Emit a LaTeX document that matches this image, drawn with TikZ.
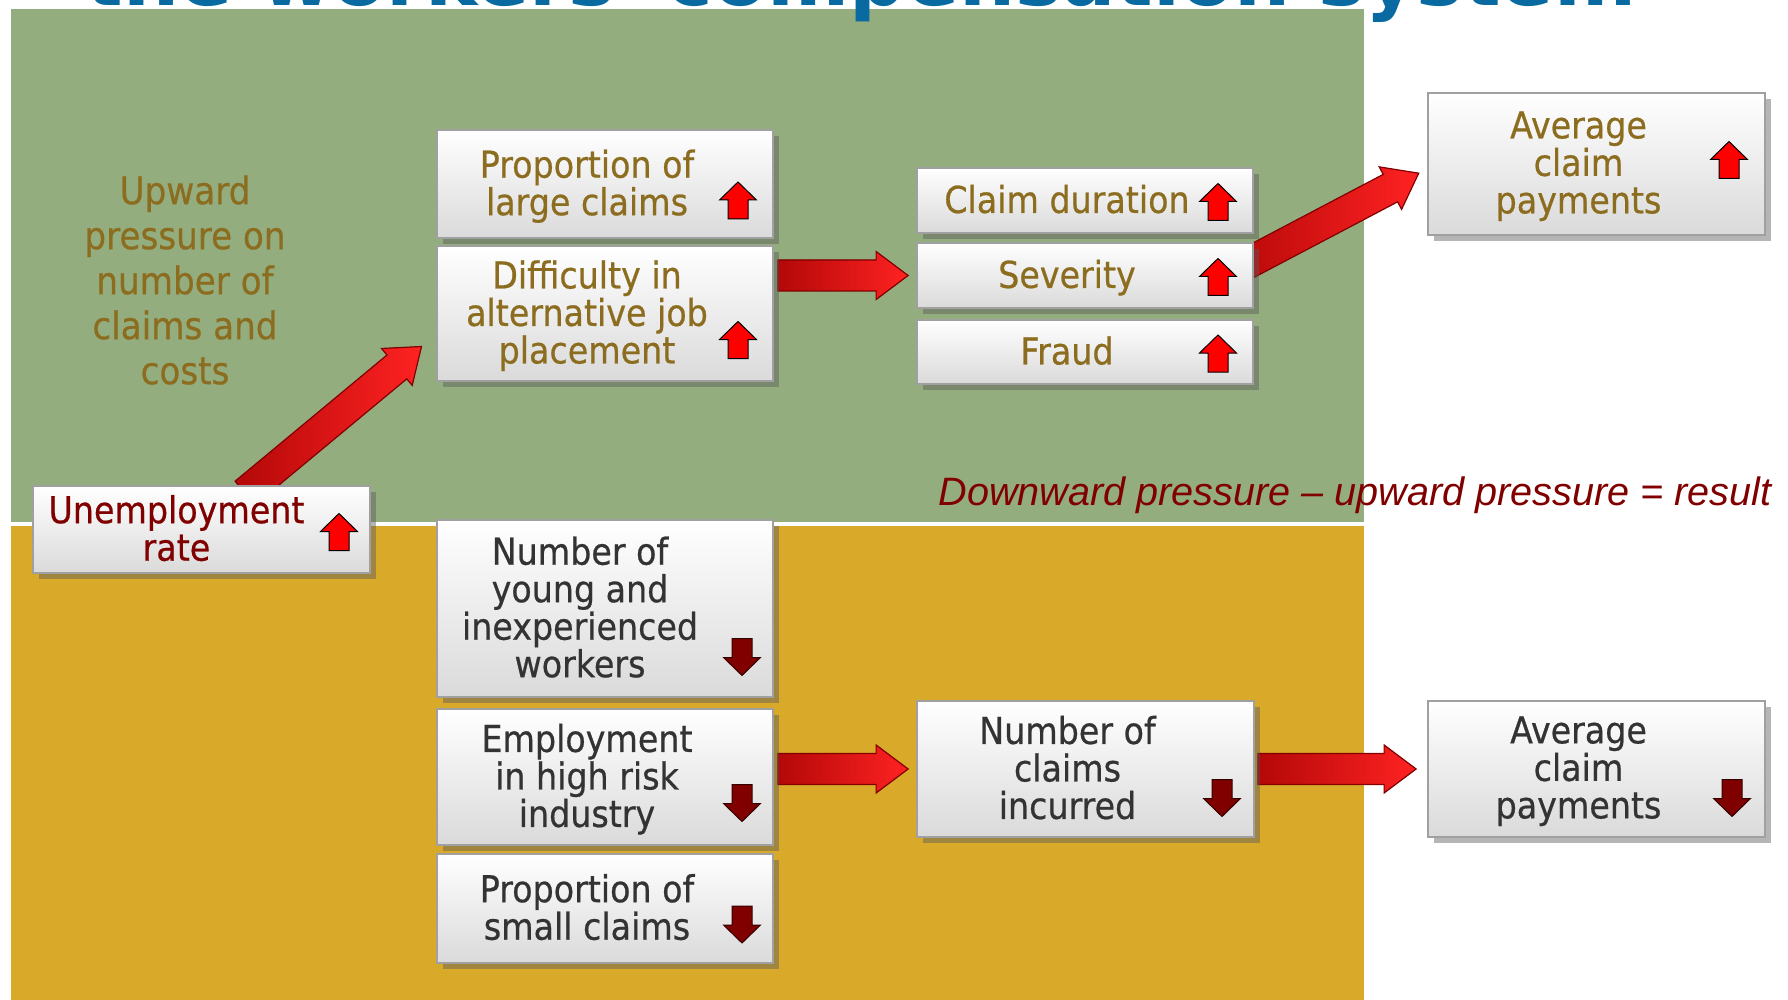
\documentclass[tikz,border=0pt]{standalone}
\usepackage{fontspec}
\setmainfont{DejaVu Sans}[FakeStretch=0.9, FakeBold=0.6]
\newfontfamily\titlefont{DejaVu Sans}
\newfontfamily\notefont{Liberation Sans}
\usetikzlibrary{calc,shadows}
\pgfdeclarelayer{bg}
\pgfsetlayers{bg,main}
\definecolor{greenbg}{RGB}{148,173,126}
\definecolor{goldbg}{RGB}{217,169,41}
\definecolor{titleblue}{RGB}{8,106,160}
\definecolor{goldtext}{RGB}{140,109,31}
\definecolor{greytext}{RGB}{51,51,51}
\definecolor{redtext}{RGB}{128,0,0}
\definecolor{boxborder}{RGB}{160,160,160}
\definecolor{boxbottom}{RGB}{218,218,218}
\definecolor{shadowc}{RGB}{90,90,90}
\definecolor{arrdark}{RGB}{180,8,8}
\definecolor{arrbright}{RGB}{255,34,34}
\definecolor{arrborder}{RGB}{130,0,0}
\definecolor{upred}{RGB}{255,0,0}
\definecolor{downred}{RGB}{128,0,0}

\newcommand\bt[2][18pt]{\raisebox{-2pt}[\height][\depth]{\parbox{140pt}{\lineskiplimit=-20pt\centering\strut#2\strut}}\hspace*{#1}}

\newcommand\fatarrow[2]{%
  \path let \p1=(#1), \p2=(#2),
    \n1={atan2(\y2-\y1,\x2-\x1)}, \n2={veclen(\x2-\x1,\y2-\y1)} in
    \pgfextra{\xdef\faang{\n1}\xdef\falen{\n2}};
  \filldraw[bigarrow, shift={(#1)}, rotate=\faang]
    (0pt,-7.75pt) -- ({\falen-16pt},-7.75pt) -- ({\falen-16pt},-12pt) -- ({\falen+0pt},0pt)
    -- ({\falen-16pt},12pt) -- ({\falen-16pt},7.75pt) -- (0pt,7.75pt) -- cycle;}

\begin{document}
\begin{tikzpicture}[x=0.5pt, y=-0.5pt,
  box/.style={draw=boxborder, line width=0.9pt, top color=white, bottom color=boxbottom,
    minimum width=168pt, inner sep=0pt,
    general shadow={fill=shadowc, opacity=0.45, shadow xshift=3pt, shadow yshift=-3pt},
    font=\fontsize{18.5pt}{18.75pt}\selectfont},
  goldbox/.style={box, text=goldtext},
  greybox/.style={box, text=greytext},
  bigarrow/.style={draw=arrborder, line width=0.6pt, line join=miter, left color=arrdark, right color=arrbright},
  uparr/.pic={\filldraw[fill=upred, draw=black, line width=0.5pt, line join=miter]
    (0,-18.5) -- (18.5,-0.5) -- (10,-0.5) -- (10,18.5) -- (-10,18.5) -- (-10,-0.5) -- (-18.5,-0.5) -- cycle;},
  dnarr/.pic={\filldraw[fill=downred, draw=black!80!red, line width=0.5pt, line join=miter]
    (0,18.5) -- (18.5,0.5) -- (10,0.5) -- (10,-18.5) -- (-10,-18.5) -- (-10,0.5) -- (-18.5,0.5) -- cycle;}
]
\useasboundingbox (0,0) rectangle (1788,1000);
\begin{pgfonlayer}{bg}
  \fill[greenbg] (11,9) rectangle (1364,522);
  \fill[goldbg] (11,526) rectangle (1364,1000);
\end{pgfonlayer}

\node[anchor=base west, inner sep=0pt, text=titleblue,
  font=\titlefont\bfseries\fontsize{39.4pt}{39.4pt}\selectfont] (title) at (85,6)
  {the workers' compensation system};

\node[text=goldtext, align=center, font=\fontsize{19pt}{22.5pt}\selectfont] (upw) at (185,280)
  {Upward\\pressure on\\number of\\claims and\\costs};

\node[anchor=base west, inner sep=0pt, text=redtext,
  font=\notefont\itshape\fontsize{19.8pt}{19.8pt}\selectfont] (note) at (938,505)
  {Downward pressure – upward pressure = result};

% boxes
\node[box, text=redtext, minimum width=168.5pt, minimum height=43.5pt] (unemp) at (201.5,529.5)
  {\bt[25pt]{Unemployment\\rate}};
\node[goldbox, minimum height=54pt] (plc) at (605,184) {\bt{Proportion of\\large claims}};
\node[goldbox, minimum height=67.5pt] (diff) at (605,313.5) {\bt{Difficulty in\\alternative job\\placement}};
\node[goldbox, minimum height=32.5pt] (dur) at (1085,200.5) {\bt{Claim duration}};
\node[goldbox, minimum height=32.5pt] (sev) at (1085,275.5) {\bt{Severity}};
\node[goldbox, minimum height=32pt] (fraud) at (1085,352) {\bt{Fraud}};
\node[goldbox, minimum width=168.5pt, minimum height=71pt] (avgup) at (1596.5,164) {\bt{Average\\claim\\payments}};
\node[greybox, minimum height=88.5pt] (young) at (605,608.5) {\bt[25pt]{Number of\\young and\\inexperienced\\workers}};
\node[greybox, minimum height=68pt] (emp) at (605,777) {\bt{Employment\\in high risk\\industry}};
\node[greybox, minimum height=54.5pt] (small) at (605,908.5) {\bt{Proportion of\\small claims}};
\node[greybox, minimum width=168.5pt, minimum height=68pt] (nci) at (1085.5,769) {\bt{Number of\\claims\\incurred}};
\node[greybox, minimum width=168.5pt, minimum height=68pt] (avgdn) at (1596.5,769) {\bt{Average\\claim\\payments}};

% connectors
\begin{pgfonlayer}{bg}
  \coordinate (a1s) at ($(unemp.north)+(43.5,8)$);
  \coordinate (a1e) at ($(diff.west)+(-14,32.5)$);
  \coordinate (a2s) at ($(diff.east |- sev.west)+(4,0)$);
  \coordinate (a2e) at ($(sev.west)+(-8,0)$);
  \coordinate (a3s) at ($(emp.east |- nci.west)+(4,0)$);
  \coordinate (a3e) at ($(nci.west)+(-8,0)$);
  \coordinate (a4s) at ($(nci.east)+(3,0)$);
  \coordinate (a4e) at ($(avgdn.west)+(-11,0)$);
  \coordinate (a5s) at ($(sev.east)+(-20,-5)$);
  \coordinate (a5e) at ($(avgup.west)+(-8,9)$);
  \fatarrow{a1s}{a1e}
  \fatarrow{a2s}{a2e}
  \fatarrow{a3s}{a3e}
  \fatarrow{a4s}{a4e}
  \fatarrow{a5s}{a5e}
\end{pgfonlayer}

% trend arrows
\pic at (339,532) {uparr};
\pic at (738,200.5) {uparr};
\pic at (738,340) {uparr};
\pic at (1218,202) {uparr};
\pic at (1218,277) {uparr};
\pic at (1218,353.5) {uparr};
\pic at (1729,160) {uparr};
\pic at (742,657) {dnarr};
\pic at (742,803) {dnarr};
\pic at (742,924.5) {dnarr};
\pic at (1222,798) {dnarr};
\pic at (1732,798) {dnarr};
\end{tikzpicture}
\end{document}
